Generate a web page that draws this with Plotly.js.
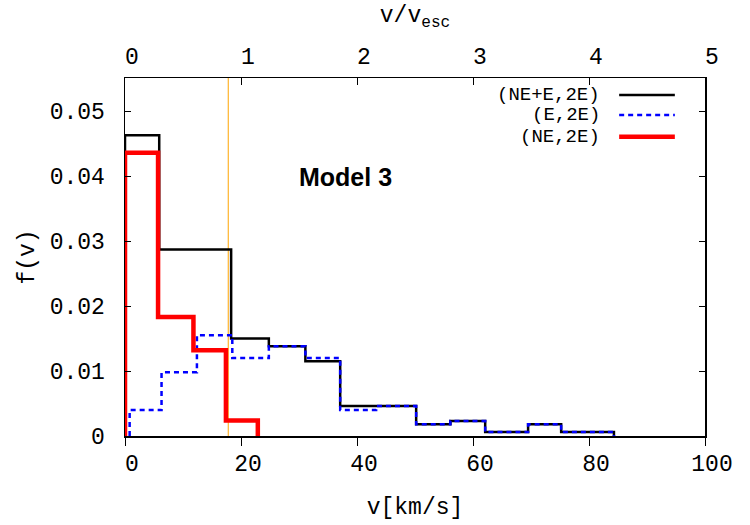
<!DOCTYPE html>
<html>
<head>
<meta charset="utf-8">
<script src="https://cdn.plot.ly/plotly-3.0.1.min.js"></script>
<style>
  html, body { margin: 0; padding: 0; background: #fff; }
  #chart { width: 750px; height: 525px; }
</style>
</head>
<body>
<div id="chart"></div>
<script>
// Velocity distributions f(v): bin edges in km/s and the value of each bin
const allEdges  = [0, 5.9, 18.3, 24.8, 31.1, 37.1, 50.2, 56.1, 62.1, 69.5, 75.2, 84.3];
const allValues = [0.0463, 0.0287, 0.0150, 0.0138, 0.0115, 0.0046, 0.0018, 0.0023, 0.0006, 0.0018, 0.0006];

const eEdges  = [0.8, 6.3, 12.4, 18.5, 24.8, 31.1, 37.1, 43.3, 50.2, 56.1, 62.1, 69.5, 75.2, 84.3];
const eValues = [0.0040, 0.0098, 0.0155, 0.0120, 0.0138, 0.0120, 0.0040, 0.0046, 0.0018, 0.0023, 0.0006, 0.0018, 0.0006];

const neEdges  = [0, 5.7, 11.8, 17.4, 22.9];
const neValues = [0.0436, 0.0183, 0.0132, 0.0024];

const seriesNames = ['(NE+E,2E)', '(E,2E)', '(NE,2E)'];

// escape-velocity marker (km/s) and axis ticks
const vEscMarker = 17.8;
const bottomTicks = [0, 20, 40, 60, 80, 100];
const topTicks = [0, 1, 2, 3, 4, 5];
const yTicks = [0, 0.01, 0.02, 0.03, 0.04, 0.05];
const modelLabel = 'Model 3';

// turn bin edges + values into a closed step outline
function steps(edges, values) {
  const xs = [edges[0]], ys = [0];
  for (let i = 0; i < values.length; i++) {
    xs.push(edges[i], edges[i + 1]);
    ys.push(values[i], values[i]);
  }
  xs.push(edges[edges.length - 1]);
  ys.push(0);
  return { x: xs, y: ys };
}

const sAll = steps(allEdges, allValues);
const sE = steps(eEdges, eValues);
const sNE = steps(neEdges, neValues);

const styles = [
  { color: '#000000', width: 2.5, dash: 'solid' },
  { color: '#0000ff', width: 2.5, dash: '5px,4px' },
  { color: '#ff0000', width: 4.5, dash: 'solid' }
];

const traces = [sAll, sE, sNE].map((s, i) => ({
  type: 'scatter', mode: 'lines',
  x: s.x, y: s.y,
  name: seriesNames[i],
  line: styles[i],
  hoverinfo: 'skip',
  showlegend: false,
  xaxis: 'x', yaxis: 'y'
}));

// invisible trace to activate the upper v/v_esc axis
traces.unshift({
  type: 'scatter', mode: 'lines', x: [0, 5], y: [0, 0],
  xaxis: 'x2', yaxis: 'y', line: { width: 0 }, hoverinfo: 'skip', showlegend: false
});

const mono = 'Liberation Mono, Courier New, monospace';
const tickFont = { family: mono, size: 23, color: '#000' };

// legend drawn gnuplot style: label on the left, line sample on the right
const legendY = [0.9525, 0.8966, 0.836];
const legendShapes = styles.map((st, i) => ({
  type: 'line', xref: 'paper', yref: 'paper',
  x0: 0.852, x1: 0.948, y0: legendY[i], y1: legendY[i],
  line: { color: st.color, width: st.width, dash: st.dash }
}));
const legendText = seriesNames.map((n, i) => ({
  xref: 'paper', yref: 'paper', x: 0.822, y: legendY[i],
  xanchor: 'right', yanchor: 'middle', showarrow: false,
  text: n, font: { family: mono, size: 19, color: '#000' }
}));

const layout = {
  width: 750, height: 525,
  margin: { l: 125, r: 45, t: 78, b: 89 },
  paper_bgcolor: '#fff', plot_bgcolor: '#fff',
  showlegend: false,
  xaxis: {
    range: [0, 100], tickvals: bottomTicks, ticktext: bottomTicks.map(String),
    showgrid: false, zeroline: false,
    showline: true, linecolor: '#000', linewidth: 1.5, mirror: true,
    ticks: 'outside', ticklen: 8, tickcolor: '#000', tickwidth: 1,
    tickfont: tickFont, ticklabelshift: 7, ticklabelstandoff: -2,
    title: { text: 'v[km/s]', font: { family: mono, size: 23, color: '#000' }, standoff: 21 }
  },
  xaxis2: {
    overlaying: 'x', side: 'top', range: [0, 5],
    tickvals: topTicks, ticktext: topTicks.map(String),
    showgrid: false, zeroline: false, showline: false,
    ticks: 'inside', ticklen: 7, tickcolor: '#000', tickwidth: 1,
    tickfont: tickFont, ticklabelshift: 7, ticklabelstandoff: 8,
    title: { text: 'v/v<sub>esc</sub>', font: { family: mono, size: 23, color: '#000' }, standoff: 16 }
  },
  yaxis: {
    range: [0, 0.0551], tickvals: yTicks, ticktext: yTicks.map(String),
    showgrid: false, zeroline: false,
    showline: true, linecolor: '#000', linewidth: 1.5, mirror: 'ticks',
    ticks: 'inside', ticklen: 6, tickcolor: '#000', tickwidth: 1,
    tickfont: tickFont, ticklabelstandoff: 14,
    title: { text: 'f(v)', font: { family: mono, size: 23, color: '#000' }, standoff: 8 }
  },
  shapes: [
    {
      type: 'line', xref: 'x', yref: 'paper',
      x0: vEscMarker, x1: vEscMarker, y0: 0, y1: 1,
      line: { color: '#ffa500', width: 1 }, layer: 'below'
    }
  ].concat(legendShapes),
  annotations: [
    {
      xref: 'x', yref: 'y', x: 38, y: 0.0398, showarrow: false,
      text: '<b>' + modelLabel + '</b>',
      font: { family: 'Liberation Sans, Arial, sans-serif', size: 25, color: '#000' }
    }
  ].concat(legendText)
};

Plotly.newPlot('chart', traces, layout, { staticPlot: true, displayModeBar: false });
</script>
</body>
</html>
